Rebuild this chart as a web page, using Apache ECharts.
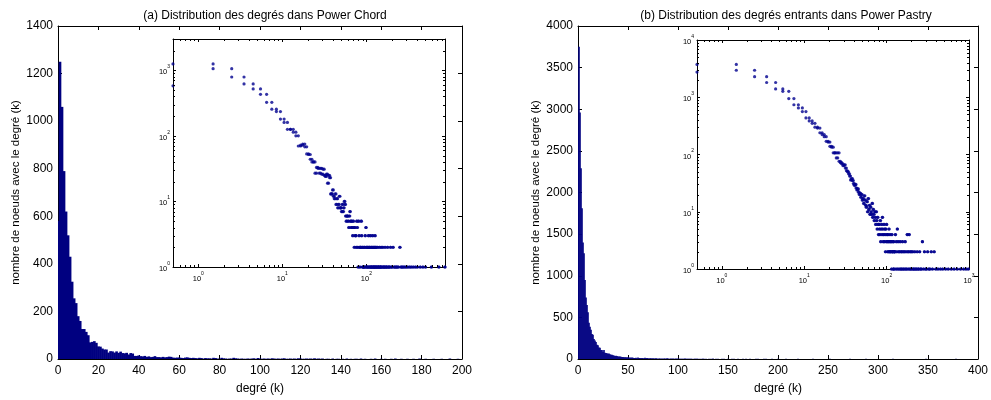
<!DOCTYPE html>
<html><head><meta charset="utf-8">
<script src="https://cdn.jsdelivr.net/npm/echarts@6/dist/echarts.min.js"></script>
<style>html,body{margin:0;padding:0;background:#fff}#c{width:991px;height:400px}</style>
</head><body><div id="c"></div><script>
// ---------- DATA ----------
// Power Chord: node counts per degree k = 0..129
const chordCountsHead = [
  580,1250,1060,790,620,520,430,325,255,235,
  180,160,126,126,114,100,70,72,75,68,
  53,52,44,40,40,27,33,32,27,32,
  26,31,25,24,26,19,25,23,13,13,
  15,12,11,13,9,11,8,9,12,8,
  8,7,9,7,8,10,9,6,5,6,
  6,5,4,6,7,5,4,5,4,3,
  5,4,2,4,3,3,2,5,4,2,
  1,5,3,2,1,2,2,5,3,2,
  1,2,1,1,2,1,2,3,1,4,
  2,1,2,1,2,1,3,2,1,2,
  1,2,3,1,1,2,1,2,1,3,
  2,1,1,2,1,2,1,3,1,2
];
// Power Chord: sparse tail (degree >= 130, non-zero counts only)
const chordTailDegrees = [130,131,133,134,136,138,139,141,143,145,147,148,150,152,155,157,160,162,165,167,170,173,176,179,182,186,190,194,198,203,208,214,220,227,233,241,251,258,266,275,286,298,311,327,342,361,383,405,438,471,506,594,730,862];
const chordTailCounts  = [1,2,1,1,2,1,1,1,2,1,1,1,2,1,1,2,1,1,1,2,1,1,1,2,1,1,1,2,1,1,2,1,1,1,1,1,2,1,1,1,1,1,1,1,1,1,1,1,1,1,1,1,1,1];

// Power Pastry: in-degree counts per degree k = 0..125
const pastryCountsHead = [
  2750,3750,2960,2290,1810,1400,1270,950,740,650,
  563,436,386,350,300,290,240,223,205,170,
  165,139,134,107,107,87,107,76,72,69,
  64,66,58,52,50,46,42,36,38,35,
  31,29,30,26,24,25,22,20,21,18,
  20,16,17,14,19,16,13,12,15,10,
  17,11,13,9,12,10,9,14,8,11,
  9,7,10,8,6,10,7,5,8,6,
  4,6,5,4,7,3,5,6,4,8,
  5,3,4,6,3,5,4,2,5,3,
  6,4,3,2,4,3,2,5,3,2,
  4,2,3,2,3,1,4,2,2,3,
  2,1,3,1,2,2
];
// Power Pastry: sparse tail (degree >= 126, non-zero counts only)
const pastryTailDegrees = [126,128,130,131,133,135,136,138,140,142,144,146,148,150,152,154,156,158,160,163,165,168,170,172,175,178,180,183,186,188,191,194,197,200,204,208,212,216,220,225,230,235,240,246,252,258,264,272,280,288,296,305,315,325,336,348,360,378,395,420,450,480,520,560,610,660,720,790,860,920,980];
const pastryTailCounts  = [2,4,1,3,2,5,1,3,2,1,2,3,1,2,1,2,3,1,2,1,2,3,1,2,1,4,2,1,2,4,1,2,1,2,1,2,1,1,2,1,1,2,1,1,2,1,1,3,1,2,1,1,2,1,1,2,1,2,1,1,1,1,1,1,1,1,1,1,1,1,1];

const titleA = '(a) Distribution des degrés dans Power Chord';
const titleB = '(b) Distribution des degrés entrants dans Power Pastry';
const xAxisName = 'degré (k)';
const yAxisName = 'nombre de noeuds avec le degré (k)';

// ---------- BUILD ----------
function buildHist(head, tailDeg, tailCnt) {
  const out = head.map((v, k) => [k, v]);
  tailDeg.forEach((d, i) => out.push([d, tailCnt[i]]));
  return out;
}
function buildStairPoints(hist) {
  const pts = [];
  hist.forEach(([k, v]) => {
    if (v <= 0) return;
    if (k >= 1) pts.push([k - 0.5, v]);
    pts.push([k + 0.5, v]);
  });
  return pts;
}
function minorVals(min, max) {
  const out = [];
  for (let n = Math.floor(Math.log10(min)) - 1; n <= Math.ceil(Math.log10(max)); n++) {
    for (let m = 2; m <= 9; m++) {
      const v = m * Math.pow(10, n);
      if (v > min * 1.0001 && v < max * 0.9999) out.push(v);
    }
  }
  return out;
}

const chordHist = buildHist(chordCountsHead, chordTailDegrees, chordTailCounts);
const pastryHist = buildHist(pastryCountsHead, pastryTailDegrees, pastryTailCounts);
const chordPts = buildStairPoints(chordHist);
const pastryPts = buildStairPoints(pastryHist);

const FONT = 'Liberation Sans, Arial, sans-serif';
const BLACK = '#000';
const FS = 12;

const grids = [
  {left: 58, top: 26, width: 404, height: 340},
  {left: 173, top: 39, width: 272, height: 228, show: true, backgroundColor: '#fff', borderWidth: 0, z: 5},
  {left: 578, top: 26, width: 405, height: 340},
  {left: 697, top: 40, width: 272, height: 229, show: true, backgroundColor: '#fff', borderWidth: 0, z: 5}
];
const insetRanges = [
  {x: [0.5, 863], y: [1, 3000]},
  {x: [0.5, 1000], y: [1, 10000]}
];

function supFormatter(v) {
  const l = Math.log10(v);
  const e = Math.round(l);
  if (Math.abs(l - e) > 1e-6) return '';
  return '{b|10}{s|' + e + '}';
}
const supRich = {
  b: {fontSize: 7.5, fontFamily: FONT, color: BLACK, padding: [4, 0, 0, 0]},
  s: {fontSize: 5, fontFamily: FONT, color: BLACK, verticalAlign: 'top'}
};
const plain = v => String(v);

const xAxes = [], yAxes = [];
function mainAxes(gi, xmax, xint, ymax, yint) {
  const common = {
    type: 'value', gridIndex: gi, splitLine: {show: false},
    axisLine: {show: true, onZero: false, lineStyle: {color: BLACK, width: 1}},
    axisTick: {show: true, inside: true, length: 4, lineStyle: {color: BLACK}}
  };
  xAxes.push(Object.assign({}, common, {position: 'bottom', min: 0, max: xmax, interval: xint,
    name: xAxisName, nameLocation: 'middle', nameGap: 24,
    nameTextStyle: {fontFamily: FONT, fontSize: FS, color: BLACK},
    axisLabel: {fontFamily: FONT, fontSize: FS, color: BLACK, margin: 6, formatter: plain}}));
  xAxes.push(Object.assign({}, common, {position: 'top', min: 0, max: xmax, interval: xint, axisLabel: {show: false}}));
  yAxes.push(Object.assign({}, common, {position: 'left', min: 0, max: ymax, interval: yint,
    name: yAxisName, nameLocation: 'middle', nameGap: 36, nameRotate: 90,
    nameTextStyle: {fontFamily: FONT, fontSize: 11.5, color: BLACK},
    axisLabel: {fontFamily: FONT, fontSize: FS, color: BLACK, margin: 5, formatter: plain}}));
  yAxes.push(Object.assign({}, common, {position: 'right', min: 0, max: ymax, interval: yint, axisLabel: {show: false}}));
}
function insetAxes(gi, r) {
  const common = {
    type: 'log', logBase: 10, gridIndex: gi, splitLine: {show: false}, z: 6,
    axisLine: {show: true, onZero: false, lineStyle: {color: BLACK, width: 1}},
    axisTick: {show: true, inside: true, length: 3, lineStyle: {color: BLACK}}
  };
  xAxes.push(Object.assign({}, common, {position: 'bottom', min: r.x[0], max: r.x[1],
    axisLabel: {formatter: supFormatter, rich: supRich, margin: 4, showMinLabel: true, showMaxLabel: true}}));
  xAxes.push(Object.assign({}, common, {position: 'top', min: r.x[0], max: r.x[1], axisLabel: {show: false}}));
  yAxes.push(Object.assign({}, common, {position: 'left', min: r.y[0], max: r.y[1],
    axisLabel: {formatter: supFormatter, rich: supRich, margin: 3}}));
  yAxes.push(Object.assign({}, common, {position: 'right', min: r.y[0], max: r.y[1], axisLabel: {show: false}}));
}
mainAxes(0, 200, 20, 1400, 200);
insetAxes(1, insetRanges[0]);
mainAxes(2, 400, 50, 4000, 500);
insetAxes(3, insetRanges[1]);

function histSeries(data, axisBase) {
  return {
    type: 'custom', xAxisIndex: axisBase, yAxisIndex: axisBase, data: data,
    encode: {x: 0, y: 1}, silent: true, z: 2,
    renderItem: function (params, api) {
      const k = api.value(0), v = api.value(1);
      if (!v) return;
      const p1 = api.coord([k - 0.5, v]);
      const p2 = api.coord([k + 0.5, 0]);
      const cs = params.coordSys;
      const shape = echarts.graphic.clipRectByRect(
        {x: p1[0] - 0.3, y: p1[1], width: p2[0] - p1[0] + 0.6, height: p2[1] - p1[1]},
        {x: cs.x, y: cs.y, width: cs.width, height: cs.height});
      if (!shape) return;
      return {type: 'rect', shape: shape, style: {fill: '#000080'}};
    }
  };
}
function scatterSeries(data, axisBase) {
  return {
    type: 'scatter', xAxisIndex: axisBase, yAxisIndex: axisBase, data: data,
    symbol: 'circle', symbolSize: 3.2, itemStyle: {color: '#00008f'}, silent: true, z: 10
  };
}
function minorXSeries(axisBase, r) {
  return {
    type: 'custom', xAxisIndex: axisBase, yAxisIndex: axisBase, silent: true, z: 11,
    data: minorVals(r.x[0], r.x[1]).map(v => [v, r.y[0]]), encode: {x: 0, y: 1},
    renderItem: function (params, api) {
      const cs = params.coordSys;
      const p = api.coord([api.value(0), api.value(1)]);
      const x = Math.round(p[0]) + 0.5;
      return {type: 'group', children: [
        {type: 'line', shape: {x1: x, y1: cs.y + cs.height, x2: x, y2: cs.y + cs.height - 2}, style: {stroke: BLACK, lineWidth: 1}},
        {type: 'line', shape: {x1: x, y1: cs.y, x2: x, y2: cs.y + 2}, style: {stroke: BLACK, lineWidth: 1}}
      ]};
    }
  };
}
function minorYSeries(axisBase, r) {
  return {
    type: 'custom', xAxisIndex: axisBase, yAxisIndex: axisBase, silent: true, z: 11,
    data: minorVals(r.y[0], r.y[1]).map(v => [r.x[0], v]), encode: {x: 0, y: 1},
    renderItem: function (params, api) {
      const cs = params.coordSys;
      const p = api.coord([api.value(0), api.value(1)]);
      const y = Math.round(p[1]) + 0.5;
      return {type: 'group', children: [
        {type: 'line', shape: {x1: cs.x, y1: y, x2: cs.x + 2, y2: y}, style: {stroke: BLACK, lineWidth: 1}},
        {type: 'line', shape: {x1: cs.x + cs.width, y1: y, x2: cs.x + cs.width - 2, y2: y}, style: {stroke: BLACK, lineWidth: 1}}
      ]};
    }
  };
}

const option = {
  animation: false,
  backgroundColor: '#fff',
  title: [
    {text: titleA, left: 260, top: 5, textAlign: 'center', textStyle: {fontFamily: FONT, fontSize: FS, fontWeight: 'normal', color: BLACK}},
    {text: titleB, left: 781, top: 5, textAlign: 'center', textStyle: {fontFamily: FONT, fontSize: FS, fontWeight: 'normal', color: BLACK}}
  ],
  grid: grids,
  xAxis: xAxes,
  yAxis: yAxes,
  series: [
    histSeries(chordHist, 0),
    scatterSeries(chordPts, 2),
    minorXSeries(2, insetRanges[0]),
    minorYSeries(2, insetRanges[0]),
    histSeries(pastryHist, 4),
    scatterSeries(pastryPts, 6),
    minorXSeries(6, insetRanges[1]),
    minorYSeries(6, insetRanges[1])
  ]
};
const chart = echarts.init(document.getElementById('c'), null, {renderer: 'canvas'});
chart.setOption(option);
</script></body></html>
